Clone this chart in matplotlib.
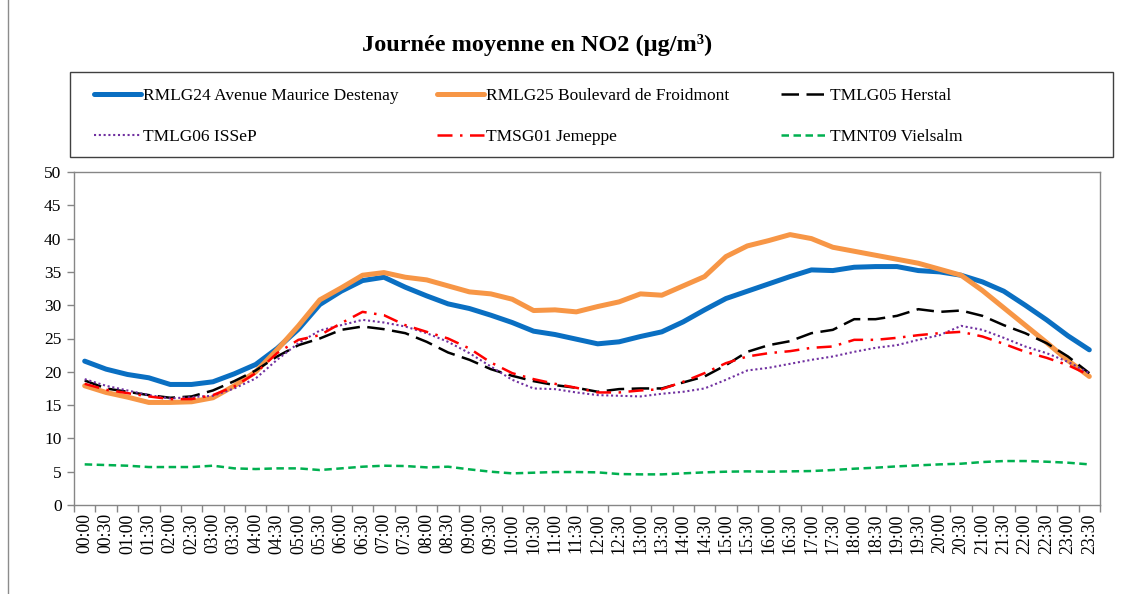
import matplotlib
matplotlib.use('Agg')
import matplotlib.pyplot as plt
from matplotlib.lines import Line2D
from matplotlib.patches import Rectangle

# Half-hour time slots
hours = [f'{h:02d}:{m:02d}' for h in range(24) for m in (0, 30)]

rmlg24 = [21.6, 20.4, 19.6, 19.1, 18.1, 18.1, 18.5, 19.7, 21.1, 23.5, 26.4, 30.1,
          32.1, 33.7, 34.2, 32.7, 31.4, 30.2, 29.5, 28.5, 27.4, 26.1, 25.6, 24.9,
          24.2, 24.5, 25.3, 26.0, 27.5, 29.3, 31.0, 32.1, 33.2, 34.3, 35.3, 35.2,
          35.7, 35.8, 35.8, 35.2, 35.0, 34.5, 33.5, 32.1, 30.0, 27.8, 25.4, 23.3]
rmlg25 = [17.9, 16.9, 16.2, 15.4, 15.4, 15.5, 16.1, 17.9, 20.0, 23.3, 26.9, 30.8,
          32.6, 34.5, 34.9, 34.2, 33.8, 32.9, 32.0, 31.7, 30.9, 29.2, 29.3, 29.0,
          29.8, 30.5, 31.7, 31.5, 32.9, 34.3, 37.3, 38.9, 39.7, 40.6, 40.0, 38.7,
          38.1, 37.5, 36.9, 36.3, 35.4, 34.5, 32.2, 29.6, 27.0, 24.4, 21.7, 19.3]
tmlg05 = [18.7, 17.5, 17.0, 16.5, 16.1, 16.3, 17.2, 18.6, 20.2, 22.3, 24.0, 25.0,
          26.3, 26.8, 26.4, 25.8, 24.5, 22.9, 21.8, 20.4, 19.4, 18.6, 18.0, 17.6,
          17.0, 17.4, 17.5, 17.5, 18.4, 19.3, 21.0, 23.0, 24.0, 24.6, 25.8, 26.3,
          27.9, 27.9, 28.4, 29.4, 29.0, 29.2, 28.4, 27.0, 25.8, 24.3, 22.3, 19.8]
tmlg06 = [18.9, 17.9, 17.2, 16.5, 16.0, 16.2, 16.4, 17.5, 19.0, 21.8, 24.3, 26.2,
          27.0, 27.8, 27.4, 26.8, 25.8, 24.5, 22.8, 20.8, 18.8, 17.5, 17.4, 16.9,
          16.5, 16.4, 16.3, 16.7, 17.0, 17.5, 18.8, 20.2, 20.6, 21.2, 21.8, 22.3,
          23.0, 23.6, 24.0, 24.8, 25.5, 26.9, 26.3, 25.1, 23.8, 22.8, 21.5, 19.8]
tmsg01 = [18.2, 17.3, 16.8, 16.3, 15.9, 15.9, 16.5, 17.8, 19.8, 22.8, 24.8, 25.5,
          27.3, 29.0, 28.5, 27.0, 26.0, 25.0, 23.5, 21.4, 19.8, 18.9, 18.2, 17.6,
          16.9, 16.9, 17.2, 17.4, 18.5, 19.8, 21.3, 22.3, 22.8, 23.1, 23.6, 23.8,
          24.8, 24.8, 25.1, 25.5, 25.8, 26.0, 25.3, 24.2, 23.0, 22.1, 21.0, 19.5]
tmnt09 = [6.1, 6.0, 5.9, 5.7, 5.7, 5.7, 5.9, 5.5, 5.4, 5.5, 5.5, 5.25,
          5.5, 5.75, 5.9, 5.85, 5.65, 5.75, 5.35, 5.0, 4.75, 4.85, 4.95, 4.95,
          4.9, 4.65, 4.6, 4.6, 4.75, 4.9, 5.0, 5.05, 5.0, 5.05, 5.1, 5.25,
          5.45, 5.6, 5.8, 5.95, 6.1, 6.2, 6.45, 6.6, 6.6, 6.5, 6.35, 6.1]

SERIF = 'Liberation Serif'
GRAY = '#868686'

fig = plt.figure(figsize=(11.27, 5.94), dpi=100)
ax = fig.add_axes([74 / 1127, 1 - 505 / 594, (1100 - 74) / 1127, (505 - 172) / 594])

x = list(range(len(hours)))
l1, = ax.plot(x, rmlg24, color='#0A6FC2', lw=3.6, solid_joinstyle='round', solid_capstyle='round')
l2, = ax.plot(x, rmlg25, color='#F79646', lw=3.6, solid_joinstyle='round', solid_capstyle='round')
l3, = ax.plot(x, tmlg05, color='black', lw=1.8, dashes=(7, 3))
l4, = ax.plot(x, tmlg06, color='#7030A0', lw=1.5, dashes=(1, 1.3))
l5, = ax.plot(x, tmsg01, color='#FF0000', lw=1.8, dashes=(6, 3, 1, 3))
l6, = ax.plot(x, tmnt09, color='#00B050', lw=1.8, dashes=(3, 1.8))

ax.set_xlim(-0.5, len(hours) - 0.5)
ax.set_ylim(0, 50)
ax.set_yticks(range(0, 51, 5))
ax.set_xticks(x)
ax.set_xticklabels(hours, rotation=90, fontfamily=SERIF, fontsize=12.8)
ax.set_xticks([i - 0.5 for i in range(len(hours) + 1)], minor=True)
ax.tick_params(axis='x', which='major', length=0, pad=6)
ax.tick_params(axis='x', which='minor', length=5, color=GRAY, width=1)
ax.tick_params(axis='y', length=5, color=GRAY, width=1, pad=4)
for lab in ax.get_yticklabels():
    lab.set_fontfamily(SERIF)
    lab.set_fontsize(12.5)
for sp in ax.spines.values():
    sp.set_color(GRAY)
    sp.set_linewidth(1)

fig.text(537 / 1127, 1 - 45 / 594, 'Journée moyenne en NO2 (µg/m³)', ha='center', va='center',
         fontfamily=SERIF, fontweight='bold', fontsize=17.5)

# legend frame
fig.add_artist(Rectangle((70 / 1127, 1 - 157 / 594), (1113 - 70) / 1127, 85 / 594,
                         transform=fig.transFigure, fill=False, edgecolor='#404040', lw=1))

cols = [([l1, l4], ['RMLG24 Avenue Maurice Destenay', 'TMLG06 ISSeP'], 94),
        ([l2, l5], ['RMLG25 Boulevard de Froidmont', 'TMSG01 Jemeppe'], 437),
        ([l3, l6], ['TMLG05 Herstal', 'TMNT09 Vielsalm'], 781)]
for handles, labels, px in cols:
    leg = fig.legend(handles, labels, loc='upper left', bbox_to_anchor=(px / 1127, 1 - 88 / 594),
                     frameon=False, prop={'family': SERIF, 'size': 12.5}, handlelength=2.7,
                     handletextpad=0.1, labelspacing=1.45, borderpad=0, borderaxespad=0)

# chart area border on the left
fig.add_artist(Line2D([8 / 1127, 8 / 1127], [0, 1], transform=fig.transFigure, color='#8c8c8c', lw=1))

fig.savefig('out.png', dpi=100)
